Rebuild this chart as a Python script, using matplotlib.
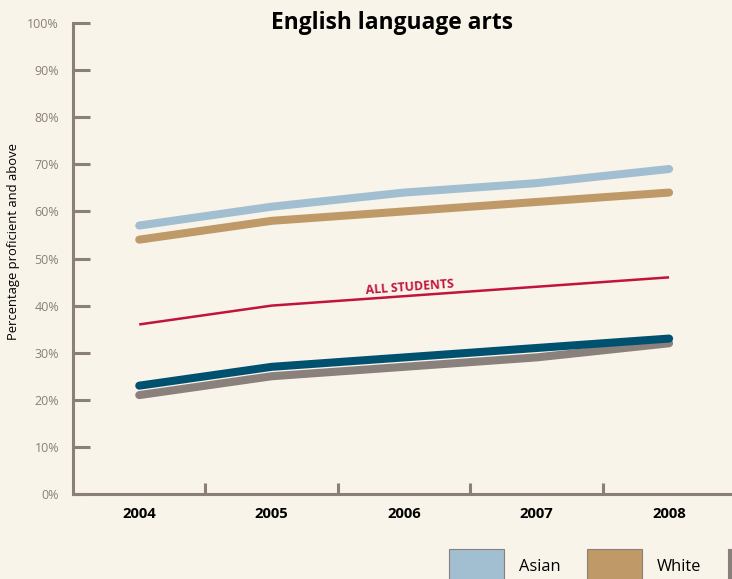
import matplotlib
matplotlib.use("Agg")
import matplotlib.pyplot as plt
from matplotlib.patches import Rectangle
from matplotlib.ticker import FixedLocator, FuncFormatter

plt.rcParams['font.family'] = ['Open Sans', 'DejaVu Sans']

years = [2004, 2005, 2006, 2007, 2008]
asian = [57, 61, 64, 66, 69]
white = [54, 58, 60, 62, 64]
all_students = [36, 40, 42, 44, 46]
hispanic = [23, 27, 29, 31, 33]
black = [21, 25, 27, 29, 32]

legend_labels = ["Asian", "White"]

BG = "#f8f4ea"
AXIS = "#8b7f79"
C_ASIAN = "#a1bfd1"
C_WHITE = "#bf9a68"
C_ALL = "#c2133b"
C_HISP = "#00516f"
C_BLACK = "#8a807c"

fig = plt.figure(figsize=(7.32, 5.79), dpi=100, facecolor=BG)
ax = fig.add_axes([73/732, 85/579, 659/732, 471/579], facecolor=BG)

lw_thick = 5.8
ax.plot(years, black, color=C_BLACK, lw=lw_thick, solid_capstyle='round', solid_joinstyle='round', zorder=3)
ax.plot(years, hispanic, color=C_HISP, lw=lw_thick, solid_capstyle='round', solid_joinstyle='round', zorder=4)
ax.plot(years, all_students, color=C_ALL, lw=1.8, solid_capstyle='butt', zorder=4)
ax.plot(years, white, color=C_WHITE, lw=lw_thick, solid_capstyle='round', solid_joinstyle='round', zorder=3)
ax.plot(years, asian, color=C_ASIAN, lw=lw_thick, solid_capstyle='round', solid_joinstyle='round', zorder=3)

ax.text(2006.05, 42.6, "ALL STUDENTS", color=C_ALL, fontsize=8.8, fontweight='bold',
        rotation=4.2, ha='center', va='bottom', rotation_mode='anchor')

ax.set_xlim(2003.5, 2008.475)
ax.set_ylim(0, 100)

for s in ['top', 'right']:
    ax.spines[s].set_visible(False)
for s in ['left', 'bottom']:
    ax.spines[s].set_color(AXIS)
    ax.spines[s].set_linewidth(2.2)
    ax.spines[s].set_capstyle('projecting')

ax.yaxis.set_major_locator(FixedLocator(range(0, 101, 10)))
ax.yaxis.set_major_formatter(FuncFormatter(lambda v, p: f"{int(v)}%"))
ax.tick_params(axis='y', direction='in', length=12.5, width=2.2, color=AXIS,
               labelcolor=AXIS, labelsize=9, pad=10)

ax.xaxis.set_major_locator(FixedLocator(years))
ax.xaxis.set_minor_locator(FixedLocator([2004.5, 2005.5, 2006.5, 2007.5]))
ax.tick_params(axis='x', which='major', length=0, pad=9, labelsize=10.7, labelcolor='black')
ax.tick_params(axis='x', which='minor', direction='in', length=8, width=2.2, color=AXIS)
for lab in ax.get_xticklabels():
    lab.set_fontweight('bold')

ax.set_ylabel("Percentage proficient and above", fontsize=9.4, color='black')
ax.yaxis.set_label_coords(-0.081, 0.537)

fig.text(392/732, 1 - 23/579, "English language arts", ha='center', va='center',
         fontsize=16.4, fontweight='bold', color='black')

# legend row along the bottom edge
legend_colors = [C_ASIAN, C_WHITE]
box_x = [449, 587]
for lab, col, bx in zip(legend_labels, legend_colors, box_x):
    fig.patches.append(Rectangle((bx/732, -10/579), 55/732, (30 + 10)/579,
                                 transform=fig.transFigure, facecolor=col,
                                 edgecolor=AXIS, linewidth=0.8))
    fig.text((bx + 70)/732, 1 - 567/579, lab, ha='left', va='center', fontsize=11.8, color='black')
fig.patches.append(Rectangle((728/732, -10/579), 30/732, 40/579, transform=fig.transFigure,
                             facecolor=C_BLACK, edgecolor=AXIS, linewidth=0.8))

fig.savefig("out.png", dpi=100, facecolor=BG)
